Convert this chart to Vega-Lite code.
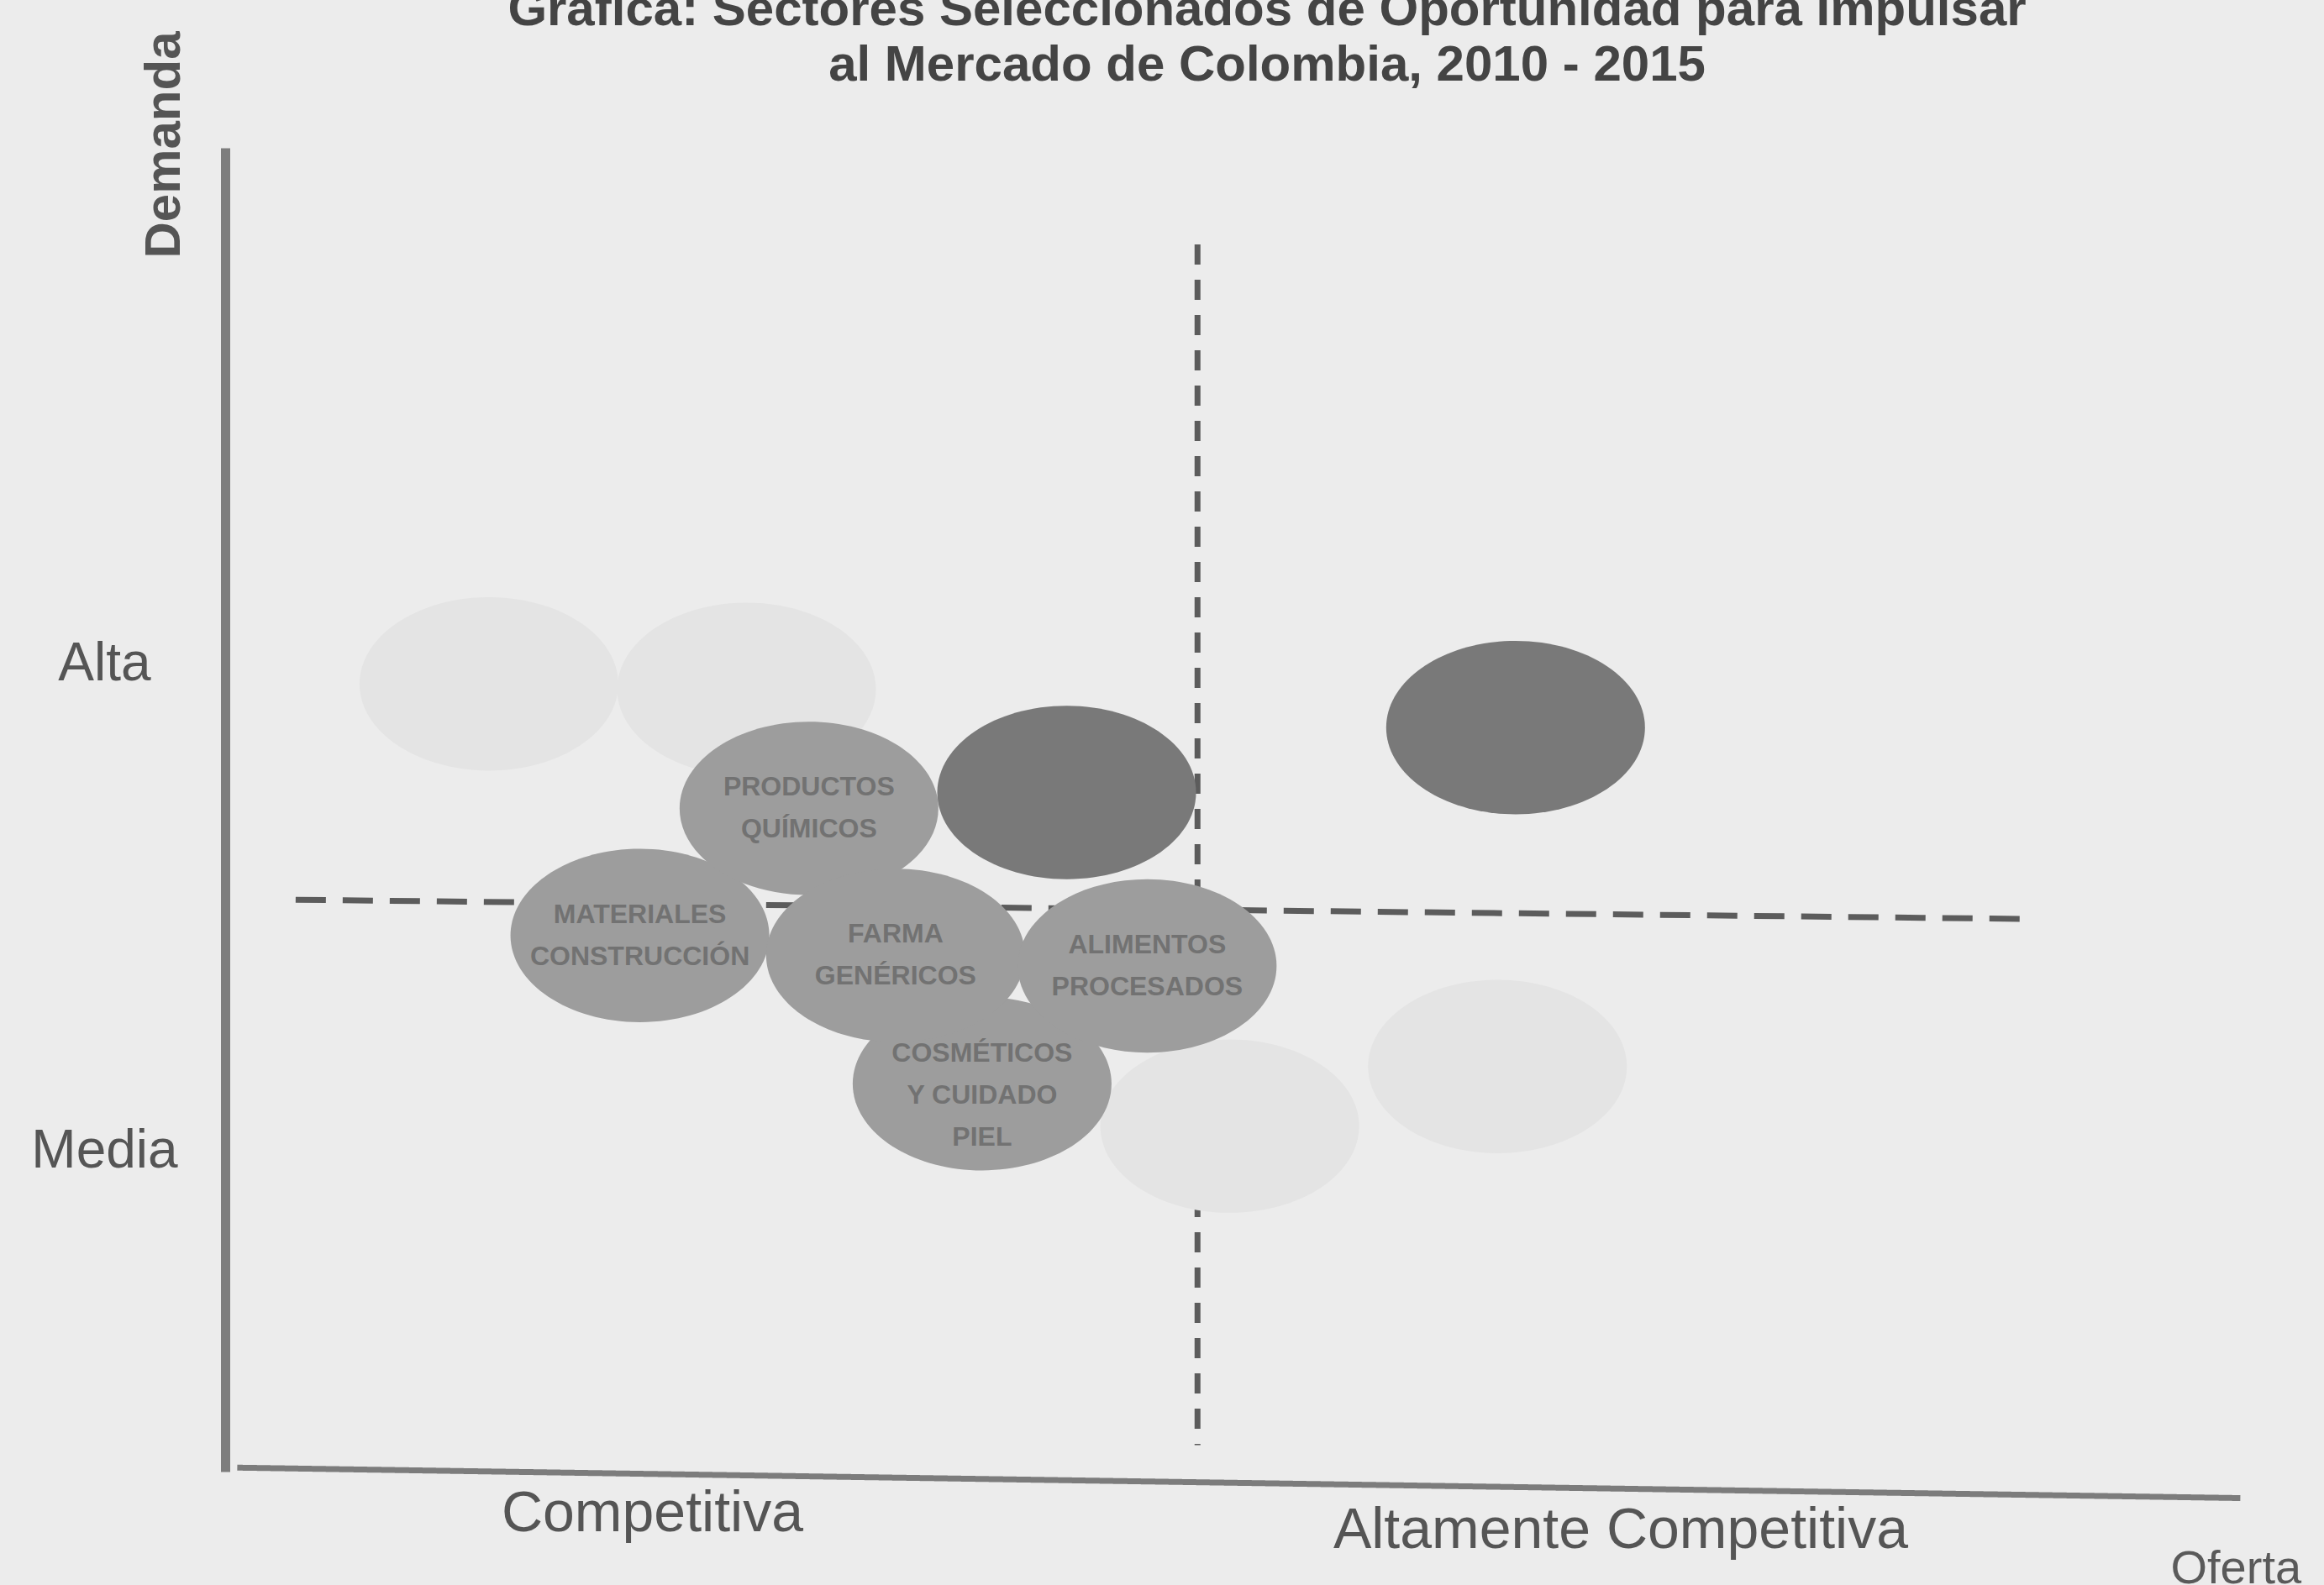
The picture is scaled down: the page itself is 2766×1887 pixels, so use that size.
{
  "$schema": "https://vega.github.io/schema/vega-lite/v6.json",
  "width": 2396,
  "height": 1576,
  "autosize": "none",
  "padding": {"left": 268, "top": 176, "right": 102, "bottom": 135},
  "background": "#ececec",
  "config": {"view": {"stroke": null}, "font": "Liberation Sans"},
  "title": {
    "text": ["Gráfica: Sectores Seleccionados de Oportunidad para Impulsar", "al Mercado de Colombia, 2010 - 2015"],
    "font": "Liberation Sans",
    "fontSize": 60,
    "fontWeight": "bold",
    "color": "#444444",
    "lineHeight": 66,
    "anchor": "middle",
    "frame": "group",
    "dx": 42,
    "offset": -72
  },
  "datasets": {
    "burbujas": [
      {"sector": "", "tipo": "fantasma", "oferta": 13.1, "demanda": 59.5},
      {"sector": "", "tipo": "fantasma", "oferta": 25.9, "demanda": 59.1},
      {"sector": "", "tipo": "fantasma", "oferta": 63.2, "demanda": 30.6},
      {"sector": "", "tipo": "fantasma", "oferta": 49.9, "demanda": 26.1},
      {"sector": "COSMÉTICOS\nY CUIDADO\nPIEL", "tipo": "claro", "oferta": 37.6, "demanda": 29.3},
      {"sector": "MATERIALES\nCONSTRUCCIÓN", "tipo": "claro", "oferta": 20.6, "demanda": 40.5},
      {"sector": "PRODUCTOS\nQUÍMICOS", "tipo": "claro", "oferta": 29.0, "demanda": 50.1},
      {"sector": "FARMA\nGENÉRICOS", "tipo": "claro", "oferta": 33.3, "demanda": 39.0},
      {"sector": "ALIMENTOS\nPROCESADOS", "tipo": "claro", "oferta": 45.8, "demanda": 38.2},
      {"sector": "", "tipo": "oscuro", "oferta": 41.8, "demanda": 51.3},
      {"sector": "", "tipo": "oscuro", "oferta": 64.1, "demanda": 56.2}
    ],
    "lineas": [
      {"linea": "vertical", "x": 48.3, "y": 92.7, "x2": 48.3, "y2": 2.0},
      {"linea": "horizontal", "x": 3.5, "y": 43.2, "x2": 89.3, "y2": 41.75},
      {"linea": "eje", "x": 0.6, "y": 0.3, "x2": 100.1, "y2": -2.0}
    ]
  },
  "layer": [
    {
      "data": {"name": "lineas"},
      "mark": {"type": "rule"},
      "encoding": {
        "x": {"field": "x", "type": "quantitative", "scale": {"domain": [0, 100], "nice": false, "zero": false},
          "axis": {"values": [21.2, 69.3], "labelExpr": "datum.value > 50 ? 'Altamente Competitiva' : 'Competitiva'",
            "domain": false, "ticks": false, "tickSize": 0, "grid": false, "labelLimit": 0,
            "labelFontSize": 68, "labelColor": "#555555", "labelFont": "Liberation Sans",
            "labelBaseline": "top", "labelPadding": {"expr": "datum.value > 50 ? 36 : 16"},
            "title": "Oferta", "titleFontSize": 56, "titleFontWeight": "normal", "titleColor": "#5a5a5a",
            "titleAlign": "left", "titleBaseline": "top", "titleX": 2315, "titleY": 88, "titleFont": "Liberation Sans"}},
        "y": {"field": "y", "type": "quantitative", "scale": {"domain": [0, 100], "nice": false, "zero": false},
          "axis": {"values": [24.2, 61.0], "labelExpr": "datum.value > 50 ? 'Alta' : 'Media'",
            "domain": true, "domainColor": "#7d7d7d", "domainWidth": 11,
            "ticks": false, "tickSize": 0, "grid": false, "labelLimit": 0,
            "labelFontSize": 64, "labelColor": "#555555", "labelFont": "Liberation Sans",
            "labelAlign": "center", "labelPadding": 144,
            "title": "Demanda", "titleFontSize": 60, "titleFontWeight": "bold", "titleColor": "#555555",
            "titleAngle": 270, "titleAlign": "center", "titleBaseline": "middle", "titleX": -73, "titleY": -4, "titleFont": "Liberation Sans"}},
        "x2": {"field": "x2"},
        "y2": {"field": "y2"},
        "strokeDash": {"field": "linea", "type": "nominal", "legend": null,
          "scale": {"domain": ["vertical", "horizontal", "eje"], "range": [[24, 18], [36, 20], [1, 0]]}},
        "strokeWidth": {"field": "linea", "type": "nominal", "legend": null,
          "scale": {"domain": ["vertical", "horizontal", "eje"], "range": [7, 7, 12]}},
        "color": {"field": "linea", "type": "nominal", "legend": null,
          "scale": {"domain": ["vertical", "horizontal", "eje"], "range": ["#5c5c5c", "#5c5c5c", "#7c7c7c"]}}
      }
    },
    {
      "data": {"name": "burbujas"},
      "mark": {"type": "point", "filled": true, "opacity": 1, "size": 94864,
        "shape": "M -1 0 C -1 -0.37 -0.552 -0.67 0 -0.67 C 0.552 -0.67 1 -0.37 1 0 C 1 0.37 0.552 0.67 0 0.67 C -0.552 0.67 -1 0.37 -1 0 Z"},
      "encoding": {
        "x": {"field": "oferta", "type": "quantitative"},
        "y": {"field": "demanda", "type": "quantitative"},
        "fill": {"field": "tipo", "type": "nominal", "legend": null,
          "scale": {"domain": ["fantasma", "claro", "oscuro"], "range": ["#e4e4e4", "#9d9d9d", "#797979"]}}
      }
    },
    {
      "data": {"name": "burbujas"},
      "transform": [{"filter": "datum.tipo == 'claro'"}],
      "mark": {"type": "text", "lineBreak": "\n", "fontSize": 32, "fontWeight": "bold", "lineHeight": 50, "color": "#727272", "font": "Liberation Sans", "align": "center", "baseline": "middle",
        "dy": {"expr": "-(split(datum.sector, '\\n').length - 1) * 25 + (split(datum.sector, '\\n').length > 2 ? 14 : 0)"}},
      "encoding": {
        "x": {"field": "oferta", "type": "quantitative"},
        "y": {"field": "demanda", "type": "quantitative"},
        "text": {"field": "sector", "type": "nominal"}
      }
    }
  ]
}
